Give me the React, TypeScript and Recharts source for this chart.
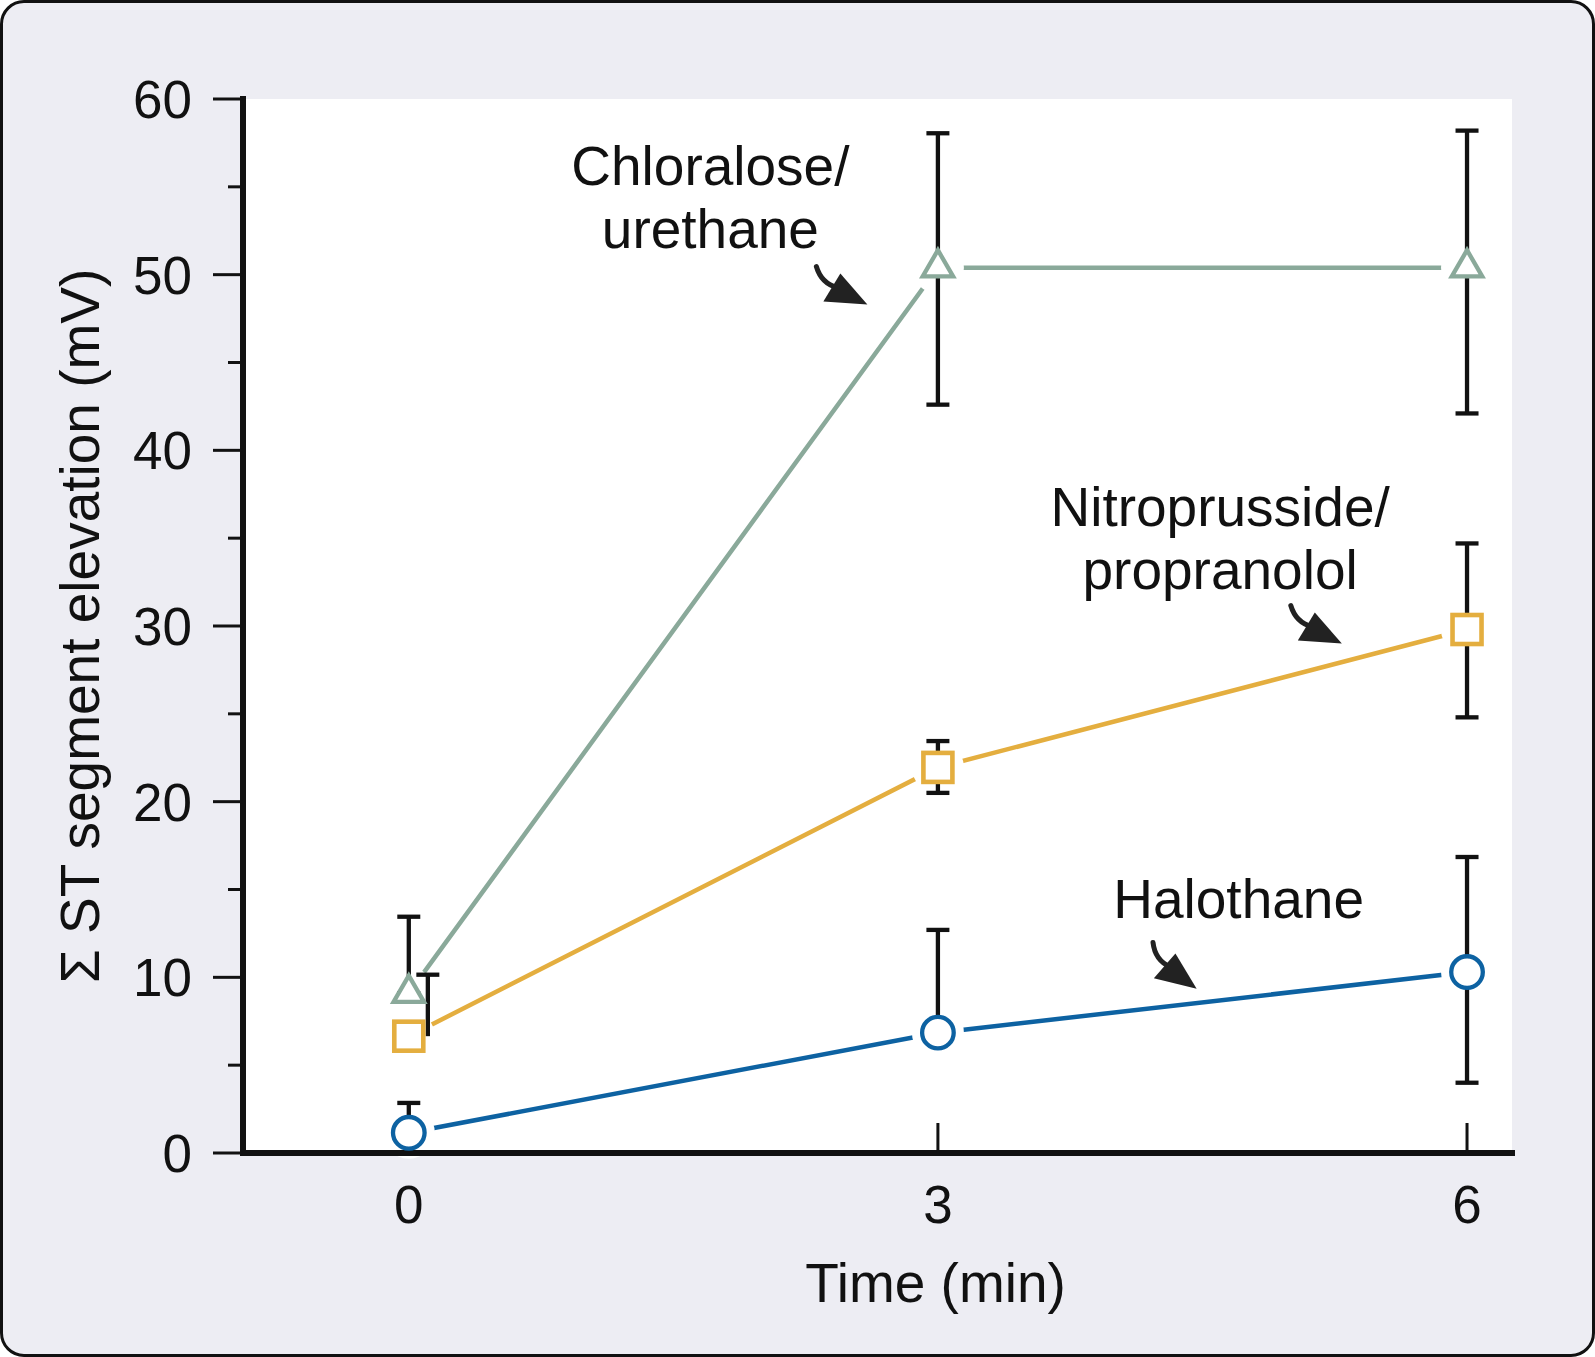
import React from "react";
import { LineChart, Line, XAxis, YAxis, CartesianGrid, ErrorBar, ReferenceDot } from "recharts";

const FONT = '"Liberation Sans", Arial, Helvetica, sans-serif';

// time points (min)
const times = [0, 3, 6];
const xTicks = [0, 3, 6];
const yTicks = [0, 5, 10, 15, 20, 25, 30, 35, 40, 45, 50, 55, 60];

// mean values (mV) and error extents; null = no bar drawn
const halothane = [1.15, 6.85, 10.3];
const halothaneUp = [1.7, 5.85, 6.55];
const halothaneDown = [null, null, 6.3];

const nitroprusside = [6.65, 21.95, 29.8];
const nitroprussideUp = [3.5, 1.5, 4.9];
const nitroprussideDown = [null, 1.45, 5.0];

const chloralose = [9.1, 50.4, 50.4];
const chloraloseUp = [4.35, 7.65, 7.8];
const chloraloseDown = [null, 7.8, 8.3];

const seriesNames = ["Halothane", "Nitroprusside/\npropranolol", "Chloralose/\nurethane"];

// the first nitroprusside bar sits a little to the right of its marker
const NITRO_BAR_NUDGE = 0.108;

const err = (lo: number | null, hi: number | null) => [lo ?? 0, hi ?? 0];

const rows = times.map((t, i) => ({
  t,
  halo: halothane[i],
  haloErr: err(halothaneDown[i], halothaneUp[i]),
  nitro: nitroprusside[i],
  nitroErr: i === 0 ? null : err(nitroprussideDown[i], nitroprussideUp[i]),
  chlor: chloralose[i],
  chlorErr: err(chloraloseDown[i], chloraloseUp[i]),
}));

// upper bar of the first nitroprusside point, drawn as a short vertical segment
const nitroShifted = [
  { t: times[0] + NITRO_BAR_NUDGE, v: nitroprusside[0] + nitroprussideUp[0] },
  { t: times[0] + NITRO_BAR_NUDGE, v: nitroprusside[0] },
];

// zero-length segments at every point: with a wide round cap they become white
// discs that open a small gap between each line and its markers
const gapRows = (vals: number[]) =>
  times.flatMap((t, i) => [
    { t, v: vals[i] },
    { t, v: vals[i] },
    { t, v: null },
  ]);

type Shape = "circle" | "square" | "triangle";

const series: { key: string; errKey: string; color: string; shape: Shape; vals: number[] }[] = [
  { key: "halo", errKey: "haloErr", color: "#0D62A2", shape: "circle", vals: halothane },
  { key: "nitro", errKey: "nitroErr", color: "#E4AE3F", shape: "square", vals: nitroprusside },
  { key: "chlor", errKey: "chlorErr", color: "#8AA99A", shape: "triangle", vals: chloralose },
];

// annotation anchors in data units
const notes = [
  { text: seriesNames[2], x: 1.71, y: 55.1, arrowX: 2.6, arrowY: 48.3, turn: 0 },
  { text: seriesNames[1], x: 4.6, y: 35.7, arrowX: 5.29, arrowY: 29.0, turn: 0 },
  { text: seriesNames[0], x: 4.705, y: 13.4, arrowX: 4.467, arrowY: 9.35, turn: 10 },
];

function markerShape(shape: Shape, cx: number, cy: number, color: string) {
  if (shape === "circle") {
    return <circle cx={cx} cy={cy} r={15.8} fill="#fff" stroke={color} strokeWidth={4.3} />;
  }
  if (shape === "square") {
    return <rect x={cx - 14.5} y={cy - 14.5} width={29} height={29} fill="#fff" stroke={color} strokeWidth={4.6} />;
  }
  const pts = `${cx},${cy - 17.5} ${cx - 15.2},${cy + 8.7} ${cx + 15.2},${cy + 8.7}`;
  return <polygon points={pts} fill="#fff" stroke={color} strokeWidth={4.3} strokeLinejoin="miter" />;
}

const markDot = (shape: Shape, color: string) => (p: any) => {
  if (p.cx == null || p.cy == null) return <g key={p.key} />;
  return <g key={p.key}>{markerShape(shape, p.cx, p.cy, color)}</g>;
};

const capDot = (p: any) => {
  if (p.cx == null || p.cy == null || p.index !== 0) return <g key={p.key} />;
  return <line key={p.key} x1={p.cx - 11.5} x2={p.cx + 11.5} y1={p.cy} y2={p.cy} stroke="#111" strokeWidth={4.3} />;
};

function YTick(props: any) {
  const { x, y, payload } = props;
  const major = payload.value % 10 === 0;
  return (
    <g>
      <line x1={x - (major ? 30 : 15)} x2={x} y1={y} y2={y} stroke="#111" strokeWidth={3} />
      {major && (
        <text x={x - 51} y={y + 19} textAnchor="end" fontSize={53} fill="#111" fontFamily={FONT}>
          {payload.value}
        </text>
      )}
    </g>
  );
}

function XTick(props: any) {
  const { x, y, payload } = props;
  // the tick at t=0 sits under the halothane marker in the original
  const hidden = payload.value === times[0];
  return (
    <g>
      {!hidden && <line x1={x} x2={x} y1={y - 30} y2={y} stroke="#111" strokeWidth={3} />}
      <text x={x} y={y + 70} textAnchor="middle" fontSize={53} fill="#111" fontFamily={FONT}>
        {payload.value}
      </text>
    </g>
  );
}

function NoteText({ cx, cy, text }: { cx: number; cy: number; text: string }) {
  return (
    <text x={cx} y={cy} textAnchor="middle" fontSize={55} fill="#111" fontFamily={FONT}>
      {text.split("\n").map((line, i) => (
        <tspan key={i} x={cx} dy={i === 0 ? 0 : 63}>
          {line}
        </tspan>
      ))}
    </text>
  );
}

function Arrow({ cx, cy, turn }: { cx: number; cy: number; turn: number }) {
  return (
    <g transform={`rotate(${turn} ${cx} ${cy})`}>
      <path
        d={`M${cx - 51},${cy - 38} Q${cx - 46},${cy - 21} ${cx - 30},${cy - 17}`}
        stroke="#222"
        strokeWidth={5}
        fill="none"
        strokeLinecap="round"
      />
      <polygon points={`${cx},${cy} ${cx - 44},${cy - 3} ${cx - 27},${cy - 31}`} fill="#222" />
    </g>
  );
}

export default function App() {
  return (
    <div style={{ position: "absolute", left: 0, top: 0, width: 1595, height: 1357, fontFamily: FONT }}>
      <div
        style={{
          position: "absolute",
          inset: 0,
          background: "#EDEDF3",
          border: "3.5px solid #111",
          borderRadius: 24,
          boxSizing: "border-box",
        }}
      />
      <div style={{ position: "absolute", left: 0, top: 0 }}>
        <LineChart width={1595} height={1357} data={rows} margin={{ top: 99, right: 83, bottom: 0, left: 0 }}>
          <CartesianGrid fill="#fff" stroke="none" horizontal={false} vertical={false} />
          <XAxis
            type="number"
            dataKey="t"
            domain={[-0.94, 6.255]}
            ticks={xTicks}
            interval={0}
            height={204}
            axisLine={{ stroke: "#111", strokeWidth: 6, strokeLinecap: "square" }}
            tickLine={false}
            tickSize={0}
            tickMargin={0}
            tick={(p: any) => <XTick {...p} />}
            label={{
              content: (p: any) => {
                const vb = p.viewBox || { x: 243, y: 1153, width: 1269 };
                return (
                  <text x={vb.x + vb.width / 2 + 58} y={vb.y + 149} textAnchor="middle" fontSize={55} fill="#111" fontFamily={FONT}>
                    Time (min)
                  </text>
                );
              },
            }}
          />
          <YAxis
            type="number"
            domain={[0, 60]}
            ticks={yTicks}
            interval={0}
            width={243}
            axisLine={{ stroke: "#111", strokeWidth: 6, strokeLinecap: "square" }}
            tickLine={false}
            tickSize={0}
            tickMargin={0}
            tick={(p: any) => <YTick {...p} />}
            label={{
              content: (p: any) => {
                const vb = p.viewBox || { x: 0, y: 99, width: 243, height: 1054 };
                const cy = vb.y + vb.height / 2;
                return (
                  <text x={99} y={cy} transform={`rotate(-90 99 ${cy})`} textAnchor="middle" fontSize={55} fill="#111" fontFamily={FONT}>
                    Σ ST segment elevation (mV)
                  </text>
                );
              },
            }}
          />

          {series.map((s) => (
            <Line
              key={s.key + "-line"}
              type="linear"
              dataKey={s.key}
              stroke={s.color}
              strokeWidth={4.5}
              dot={false}
              activeDot={false}
              isAnimationActive={false}
            />
          ))}

          {series.map((s) => (
            <Line
              key={s.key + "-gap"}
              data={gapRows(s.vals)}
              dataKey="v"
              type="linear"
              stroke="#fff"
              strokeWidth={52}
              strokeLinecap="round"
              dot={false}
              activeDot={false}
              isAnimationActive={false}
            />
          ))}

          {series.map((s) => (
            <Line key={s.key + "-err"} dataKey={s.key} stroke="none" dot={false} activeDot={false} isAnimationActive={false}>
              <ErrorBar dataKey={s.errKey} direction="y" width={11.5} stroke="#111" strokeWidth={4.3} isAnimationActive={false} />
            </Line>
          ))}

          <Line
            data={nitroShifted}
            dataKey="v"
            type="linear"
            stroke="#111"
            strokeWidth={4.3}
            dot={capDot}
            activeDot={false}
            isAnimationActive={false}
          />

          {series.map((s) => (
            <Line
              key={s.key + "-mark"}
              dataKey={s.key}
              stroke="none"
              dot={markDot(s.shape, s.color)}
              activeDot={false}
              isAnimationActive={false}
            />
          ))}

          {notes.map((n, i) => (
            <ReferenceDot
              key={"note" + i}
              x={n.x}
              y={n.y}
              r={0}
              ifOverflow="visible"
              shape={(p: any) => <NoteText cx={p.cx} cy={p.cy} text={n.text} />}
            />
          ))}
          {notes.map((n, i) => (
            <ReferenceDot
              key={"arrow" + i}
              x={n.arrowX}
              y={n.arrowY}
              r={0}
              ifOverflow="visible"
              shape={(p: any) => <Arrow cx={p.cx} cy={p.cy} turn={n.turn} />}
            />
          ))}
        </LineChart>
      </div>
    </div>
  );
}
